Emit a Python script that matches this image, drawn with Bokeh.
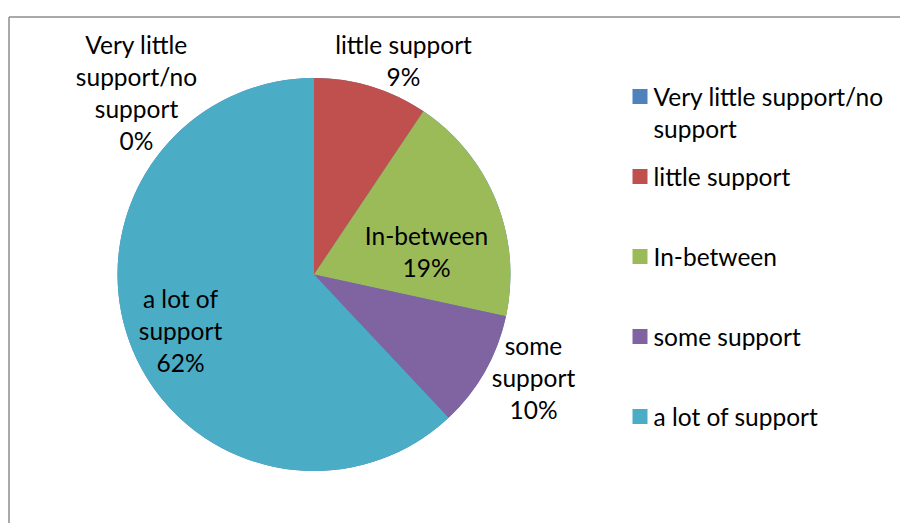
import math
from bokeh.plotting import figure
from bokeh.models import Range1d, ColumnDataSource
from bokeh.core.properties import value
from bokeh.embed import file_html
from bokeh.resources import INLINE

# ---- data ----
categories = ["Very little support/no support", "little support", "In-between",
              "some support", "a lot of support"]
shares = [0.0, 9.4, 19.0, 9.6, 62.0]
pct_labels = ["0%", "9%", "19%", "10%", "62%"]
slice_label_lines = [["Very little", "support/no", "support"],
                     ["little support"],
                     ["In-between"],
                     ["some", "support"],
                     ["a lot of", "support"]]
legend_lines = [["Very little support/no", "support"], ["little support"],
                ["In-between"], ["some support"], ["a lot of support"]]
colors = ["#4F81BD", "#C0504D", "#9BBB59", "#8064A2", "#4BACC6"]

# ---- layout (pixel-like data units) ----
W, H = 900, 523
FONT = "Lato"
FS = "24.5px"
cx, cy, r = 313.5, 249, 196.5
# label block centres (x, y of first line)
label_pos = [(136, 479), (403, 479), (426, 288), (533, 178), (180, 225)]
line_gap = 32
leg_x_sq, leg_x_txt, leg_y0, leg_gap = 639.5, 653, 427, 80

p = figure(width=W, height=H, output_backend="svg", toolbar_location=None,
           x_range=Range1d(0, W), y_range=Range1d(0, H),
           min_border=0, min_border_left=0, min_border_right=0,
           min_border_top=0, min_border_bottom=0)
p.axis.visible = False
p.grid.visible = False
p.outline_line_color = None
p.background_fill_color = "white"

# chart-area border (left and top edges)
p.segment(x0=[8.5, 8.5], y0=[-5, H - 16.5], x1=[8.5, W + 5], y1=[H - 16.5, H - 16.5],
          line_color="#8c8c8c", line_width=1.5)

# wedges
total = sum(shares)
starts, ends = [], []
cum = 0.0
for s in shares:
    starts.append(math.pi / 2 - 2 * math.pi * cum / total)
    cum += s
    ends.append(math.pi / 2 - 2 * math.pi * cum / total)
src = ColumnDataSource(dict(start=starts, end=ends, color=colors))
p.wedge(x=cx, y=cy, radius=r, start_angle="start", end_angle="end",
        direction="clock", fill_color="color", line_color=None, source=src)

# slice labels
tx, ty, tt = [], [], []
for i, lines in enumerate(slice_label_lines):
    x0, y0 = label_pos[i]
    allines = lines + [pct_labels[i]]
    for j, ln in enumerate(allines):
        tx.append(x0)
        ty.append(y0 - j * line_gap)
        tt.append(ln)
p.text(x=tx, y=ty, text=tt, text_font=value(FONT), text_font_size=FS,
       text_align="center", text_baseline="middle", text_color="black")

# legend
sq_y = [leg_y0 - i * leg_gap for i in range(len(categories))]
p.rect(x=[leg_x_sq] * len(categories), y=sq_y, width=15, height=15,
       fill_color=colors, line_color=None)
lx, ly, lt = [], [], []
for i, lines in enumerate(legend_lines):
    for j, ln in enumerate(lines):
        lx.append(leg_x_txt)
        ly.append(sq_y[i] - j * line_gap)
        lt.append(ln)
p.text(x=lx, y=ly, text=lt, text_font=value(FONT), text_font_size=FS,
       text_align="left", text_baseline="middle", text_color="black")

open("out.html", "w").write(file_html(p, INLINE))
